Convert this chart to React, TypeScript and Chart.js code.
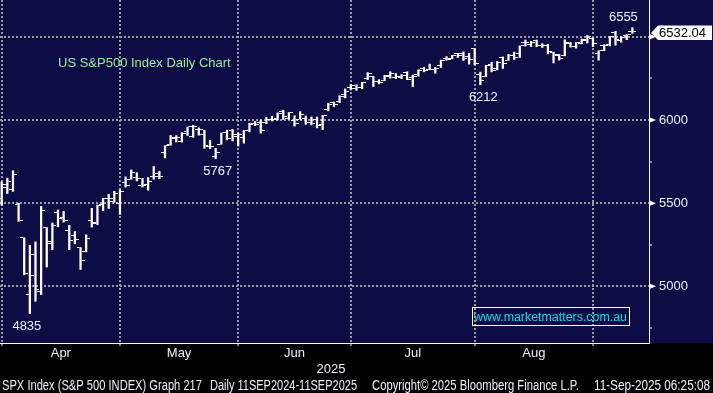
import React, { useEffect, useRef } from 'react';
import { Chart, registerables } from 'chart.js';

Chart.register(...registerables);

// ---------- data (S&P 500 daily OHLC) ----------
const DATES = [
  '2025-03-31',
  '2025-04-01', '2025-04-02', '2025-04-03', '2025-04-04', '2025-04-07', '2025-04-08', '2025-04-09', '2025-04-10', '2025-04-11', '2025-04-14',
  '2025-04-15', '2025-04-16', '2025-04-17', '2025-04-21', '2025-04-22', '2025-04-23', '2025-04-24', '2025-04-25', '2025-04-28', '2025-04-29', '2025-04-30',
  '2025-05-01', '2025-05-02', '2025-05-05', '2025-05-06', '2025-05-07', '2025-05-08', '2025-05-09', '2025-05-12', '2025-05-13', '2025-05-14',
  '2025-05-15', '2025-05-16', '2025-05-19', '2025-05-20', '2025-05-21', '2025-05-22', '2025-05-23', '2025-05-27', '2025-05-28', '2025-05-29', '2025-05-30',
  '2025-06-02', '2025-06-03', '2025-06-04', '2025-06-05', '2025-06-06', '2025-06-09', '2025-06-10', '2025-06-11', '2025-06-12', '2025-06-13',
  '2025-06-16', '2025-06-17', '2025-06-18', '2025-06-20', '2025-06-23', '2025-06-24', '2025-06-25', '2025-06-26', '2025-06-27', '2025-06-30',
  '2025-07-01', '2025-07-02', '2025-07-03', '2025-07-07', '2025-07-08', '2025-07-09', '2025-07-10', '2025-07-11', '2025-07-14', '2025-07-15', '2025-07-16',
  '2025-07-17', '2025-07-18', '2025-07-21', '2025-07-22', '2025-07-23', '2025-07-24', '2025-07-25', '2025-07-28', '2025-07-29', '2025-07-30', '2025-07-31',
  '2025-08-01', '2025-08-04', '2025-08-05', '2025-08-06', '2025-08-07', '2025-08-08', '2025-08-11', '2025-08-12', '2025-08-13', '2025-08-14', '2025-08-15',
  '2025-08-18', '2025-08-19', '2025-08-20', '2025-08-21', '2025-08-22', '2025-08-25', '2025-08-26', '2025-08-27', '2025-08-28', '2025-08-29',
  '2025-09-02', '2025-09-03', '2025-09-04', '2025-09-05', '2025-09-08', '2025-09-09', '2025-09-10',
];

const OPEN = [
  5527,
  5597, 5580, 5492, 5292, 4953, 5193, 4967, 5353, 5255, 5441, 5411, 5335, 5305, 5232, 5207, 5395, 5381, 5489, 5529, 5508, 5499,
  5625, 5645, 5655, 5606, 5614, 5663, 5679, 5807, 5854, 5896, 5869, 5929, 5902, 5944, 5910, 5842, 5781, 5854, 5925, 5939, 5903,
  5897, 5939, 5978, 5985, 5987, 6005, 6009, 6050, 6010, 5997, 6005, 6012, 5987, 6004, 5970, 6061, 6105, 6114, 6151, 6194,
  6187, 6193, 6247, 6260, 6232, 6240, 6266, 6256, 6256, 6286, 6255, 6271, 6308, 6304, 6306, 6326, 6368, 6371, 6397, 6401, 6381, 6427,
  6271, 6261, 6336, 6310, 6375, 6359, 6389, 6397, 6466, 6453, 6478, 6445, 6449, 6407, 6389, 6386, 6458, 6440, 6462, 6483, 6492,
  6401, 6448, 6457, 6527, 6481, 6506, 6530,
];

const HIGH = [
  5627,
  5650, 5695, 5500, 5292, 5246, 5267, 5481, 5353, 5381, 5459, 5450, 5367, 5329, 5233, 5309, 5469, 5489, 5528, 5553, 5571, 5581,
  5658, 5700, 5683, 5649, 5654, 5720, 5691, 5845, 5907, 5906, 5924, 5958, 5968, 5953, 5939, 5878, 5829, 5922, 5939, 5943, 5922,
  5937, 5981, 5991, 5999, 6017, 6022, 6043, 6059, 6045, 6026, 6050, 6024, 6018, 6018, 6028, 6101, 6108, 6146, 6187, 6215,
  6211, 6227, 6285, 6262, 6242, 6269, 6290, 6279, 6273, 6290, 6270, 6302, 6316, 6336, 6316, 6360, 6381, 6389, 6401, 6410, 6400, 6428,
  6288, 6329, 6347, 6352, 6379, 6395, 6408, 6446, 6481, 6473, 6481, 6459, 6456, 6408, 6394, 6482, 6466, 6466, 6487, 6508, 6494,
  6416, 6453, 6502, 6533, 6500, 6513, 6555,
];

const LOW = [
  5488,
  5558, 5571, 5390, 5069, 4835, 4910, 4950, 5116, 5220, 5358, 5386, 5220, 5255, 5101, 5207, 5356, 5371, 5455, 5468, 5505, 5433,
  5597, 5644, 5634, 5597, 5578, 5644, 5647, 5772, 5848, 5868, 5867, 5907, 5896, 5909, 5830, 5828, 5767, 5854, 5880, 5874, 5843,
  5861, 5929, 5966, 5921, 5978, 5994, 6000, 6003, 6004, 5963, 6004, 5974, 5971, 5952, 5943, 6055, 6081, 6104, 6133, 6181,
  6178, 6188, 6243, 6201, 6217, 6236, 6251, 6249, 6249, 6243, 6201, 6263, 6290, 6303, 6281, 6316, 6360, 6368, 6376, 6358, 6336, 6332,
  6212, 6261, 6289, 6301, 6310, 6359, 6364, 6376, 6444, 6442, 6441, 6436, 6397, 6343, 6360, 6386, 6438, 6432, 6458, 6463, 6441,
  6360, 6417, 6445, 6450, 6468, 6483, 6521,
];

const CLOSE = [
  5612,
  5633, 5671, 5397, 5074, 5062, 4982, 5457, 5268, 5363, 5406, 5396, 5276, 5283, 5158, 5288, 5376, 5485, 5525, 5528, 5561, 5569,
  5604, 5686, 5650, 5607, 5631, 5663, 5660, 5844, 5886, 5892, 5916, 5958, 5963, 5940, 5844, 5842, 5802, 5922, 5889, 5912, 5912,
  5936, 5970, 5971, 5939, 6000, 6006, 6039, 6022, 6045, 5977, 6033, 5983, 5981, 5967, 6025, 6092, 6092, 6141, 6173, 6205,
  6198, 6227, 6279, 6230, 6226, 6263, 6280, 6260, 6269, 6244, 6264, 6297, 6297, 6306, 6309, 6359, 6363, 6389, 6390, 6371, 6362, 6339,
  6238, 6329, 6299, 6345, 6340, 6389, 6374, 6446, 6466, 6469, 6450, 6449, 6411, 6396, 6370, 6467, 6439, 6466, 6481, 6502, 6460,
  6416, 6448, 6502, 6482, 6495, 6513, 6532.04,
];

// month boundaries (index of last session of previous month) and labels
const MONTH_ENDS = [0, 21, 42, 62, 84, 105];
const MONTHS = ['Apr', 'May', 'Jun', 'Jul', 'Aug'];
const YEAR_LABEL = '2025';

const Y_TICKS = [4750, 5000, 5250, 5500, 5750, 6000, 6250, 6500];
const Y_MAJOR_STEP = 500;

// annotated extremes: index into series + which series
const MARK_INDEX = [5, 38, 85, 112];
const MARK_KIND = ['low', 'low', 'low', 'high'];

const TITLE = 'US S&P500 Index Daily Chart';
const WEBSITE = 'www.marketmatters.com.au';
const FOOTER = [
  'SPX Index (S&P 500 INDEX) Graph 217',
  'Daily 11SEP2024-11SEP2025',
  'Copyright\u00A9 2025 Bloomberg Finance L.P.',
  '11-Sep-2025 06:25:08',
];

// ---------- styling ----------
const X_MIN = -0.302;
const X_MAX = 114.95;
const Y_MIN = 4659;
const Y_MAX = 6721.6;
const NAVY = '#0e0c44';
const GRID = '#9a9aa4';
const LABEL = '#eef0ff';
const FONT = '"Liberation Sans", Arial, sans-serif';

function makeTick(side: 'left' | 'right') {
  const c = document.createElement('canvas');
  c.width = 8;
  c.height = 1;
  const g = c.getContext('2d')!;
  g.fillStyle = '#ffffff';
  if (side === 'left') g.fillRect(0, 0, 3, 1);
  else g.fillRect(5, 0, 3, 1);
  return c;
}

const bgPlugin = {
  id: 'bgPlugin',
  beforeDraw(chart: any) {
    const { ctx, chartArea, width, height } = chart;
    ctx.save();
    ctx.fillStyle = '#000000';
    ctx.fillRect(0, 0, width, height);
    ctx.fillStyle = NAVY;
    ctx.fillRect(0, 0, width, chartArea.bottom);
    ctx.restore();
  },
};

const overlayPlugin = {
  id: 'overlayPlugin',
  afterDraw(chart: any) {
    const { ctx, chartArea, scales } = chart;
    const xs = scales.x;
    const ys = scales.y;
    ctx.save();

    // axis triangles at major ticks
    ctx.fillStyle = '#ffffff';
    Y_TICKS.filter((v) => v % Y_MAJOR_STEP === 0).forEach((v) => {
      const y = ys.getPixelForValue(v);
      ctx.beginPath();
      ctx.moveTo(chartArea.right, y - 3);
      ctx.lineTo(chartArea.right + 7, y);
      ctx.lineTo(chartArea.right, y + 3);
      ctx.closePath();
      ctx.fill();
    });

    // last price box
    const last = CLOSE[CLOSE.length - 1];
    const yc = ys.getPixelForValue(last) + 1.5;
    const xl = chartArea.right + 2;
    ctx.fillStyle = '#ffffff';
    ctx.beginPath();
    ctx.moveTo(xl, yc);
    ctx.lineTo(xl + 7, yc - 7.5);
    ctx.lineTo(712, yc - 7.5);
    ctx.lineTo(712, yc + 7);
    ctx.lineTo(xl + 7, yc + 7);
    ctx.closePath();
    ctx.fill();
    ctx.fillStyle = '#000000';
    ctx.font = `13px ${FONT}`;
    ctx.textAlign = 'left';
    ctx.textBaseline = 'middle';
    ctx.fillText(last.toFixed(2), xl + 8, yc + 0.5);

    // extreme labels
    const dx = [-3, 2, 3, -9];
    ctx.fillStyle = LABEL;
    ctx.textAlign = 'center';
    MARK_INDEX.forEach((idx, k) => {
      const isLow = MARK_KIND[k] === 'low';
      const val = isLow ? LOW[idx] : HIGH[idx];
      const px = xs.getPixelForValue(idx) + dx[k];
      const py = ys.getPixelForValue(val) + (isLow ? 13 : -10);
      ctx.fillText(String(Math.round(val)), px, py);
    });

    // title
    ctx.fillStyle = '#98f098';
    ctx.textAlign = 'left';
    ctx.font = `13px ${FONT}`;
    ctx.fillText(TITLE, 58, 63.5);

    // website box
    ctx.strokeStyle = '#ffffff';
    ctx.lineWidth = 1;
    ctx.strokeRect(472.5, 307.5, 157, 18);
    ctx.fillStyle = '#14dce8';
    ctx.font = `12.5px ${FONT}`;
    ctx.fillText(WEBSITE, 474, 317.5, 153);

    // year
    ctx.fillStyle = LABEL;
    ctx.textAlign = 'center';
    ctx.font = `13px ${FONT}`;
    ctx.fillText(YEAR_LABEL, 331, 369);

    // footer
    ctx.textAlign = 'left';
    ctx.font = `14px ${FONT}`;
    const fx = [2, 210, 372, 594];
    const fw = [200, 147, 207, 116];
    FOOTER.forEach((t, i) => ctx.fillText(t, fx[i], 386, fw[i]));

    ctx.restore();
  },
};

export default function App() {
  const ref = useRef<HTMLCanvasElement>(null);

  useEffect(() => {
    document.body.style.margin = '0';
    document.body.style.background = '#000';
    const canvas = ref.current!;
    const openImg = makeTick('left');
    const closeImg = makeTick('right');

    const monthMids = MONTHS.map((_, i) => (MONTH_ENDS[i] + MONTH_ENDS[i + 1]) / 2);

    const chart = new Chart(canvas, {
      type: 'bar',
      data: {
        labels: DATES,
        datasets: [
          {
            type: 'bar',
            data: LOW.map((l, i) => ({ x: i, y: [l, HIGH[i]] })) as any,
            backgroundColor: '#ffffff',
            borderWidth: 0,
            barThickness: 1.6,
            grouped: false,
            xAxisID: 'x',
            yAxisID: 'y',
          } as any,
          {
            type: 'line',
            data: OPEN.map((o, i) => ({ x: i, y: o })),
            showLine: false,
            pointStyle: openImg,
            pointRadius: 4,
            pointHoverRadius: 4,
            xAxisID: 'x',
            yAxisID: 'y',
          } as any,
          {
            type: 'line',
            data: CLOSE.map((c, i) => ({ x: i, y: c })),
            showLine: false,
            pointStyle: closeImg,
            pointRadius: 4,
            pointHoverRadius: 4,
            xAxisID: 'x',
            yAxisID: 'y',
          } as any,
        ],
      },
      options: {
        responsive: false,
        animation: false,
        events: [],
        layout: { padding: 0, autoPadding: false } as any,
        plugins: { legend: { display: false }, tooltip: { enabled: false }, title: { display: false } },
        scales: {
          x: {
            type: 'linear',
            position: 'bottom',
            weight: 0,
            min: X_MIN,
            max: X_MAX,
            offset: false,
            afterBuildTicks: (s: any) => {
              s.ticks = MONTH_ENDS.map((v) => ({ value: v }));
            },
            afterFit: (s: any) => {
              s.height = 4;
              s.paddingLeft = 0;
              s.paddingRight = 0;
            },
            ticks: { display: false },
            grid: {
              offset: false,
              color: GRID,
              lineWidth: 2,
              drawTicks: true,
              tickLength: 3,
              tickColor: '#ffffff',
              tickWidth: 1,
            },
            border: { display: true, color: '#ffffff', width: 1, dash: [2, 2] },
          } as any,
          xm: {
            type: 'linear',
            position: 'bottom',
            weight: 1,
            min: X_MIN,
            max: X_MAX,
            offset: false,
            afterBuildTicks: (s: any) => {
              s.ticks = monthMids.map((v) => ({ value: v }));
            },
            afterFit: (s: any) => {
              s.height = 46;
              s.paddingLeft = 0;
              s.paddingRight = 0;
            },
            grid: { display: false, offset: false },
            border: { display: false },
            ticks: {
              autoSkip: false,
              maxRotation: 0,
              padding: -9,
              color: LABEL,
              font: { family: FONT, size: 13 },
              callback: (_v: any, i: number) => MONTHS[i],
            },
          } as any,
          y: {
            type: 'linear',
            position: 'right',
            min: Y_MIN,
            max: Y_MAX,
            beginAtZero: false,
            afterBuildTicks: (s: any) => {
              s.ticks = Y_TICKS.map((v) => ({ value: v }));
            },
            afterFit: (s: any) => {
              s.width = 64;
              s.paddingTop = 0;
              s.paddingBottom = 0;
            },
            grid: {
              color: (c: any) => (c.tick && c.tick.value % Y_MAJOR_STEP === 0 ? GRID : 'transparent'),
              lineWidth: 2,
              drawTicks: true,
              tickLength: 3,
              tickColor: (c: any) => (c.tick && c.tick.value % Y_MAJOR_STEP === 0 ? 'transparent' : '#ffffff'),
              tickWidth: 1,
            },
            border: { display: true, color: '#ffffff', width: 1, dash: [2, 2] },
            ticks: {
              autoSkip: false,
              padding: 7,
              color: LABEL,
              font: { family: FONT, size: 13 },
              callback: (v: any) => (Number(v) % Y_MAJOR_STEP === 0 ? String(v) : ''),
            },
          } as any,
        },
      },
      plugins: [bgPlugin, overlayPlugin],
    });

    return () => chart.destroy();
  }, []);

  return <canvas ref={ref} width={713} height={393} style={{ display: 'block', width: 713, height: 393 }} />;
}
